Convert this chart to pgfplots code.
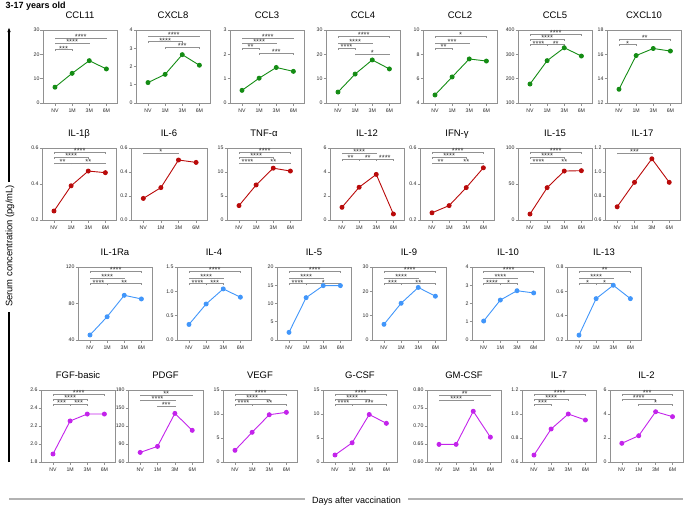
\documentclass[border=0pt]{standalone}
\usepackage{fontspec}
\setmainfont{Liberation Sans}
\usepackage{pgfplots}
\pgfplotsset{compat=1.18}
\usetikzlibrary{arrows.meta}

\definecolor{cg}{RGB}{20,140,20}
\definecolor{cr}{RGB}{185,10,10}
\definecolor{cb}{RGB}{65,150,250}
\definecolor{cp}{RGB}{195,35,235}
\definecolor{axg}{RGB}{145,145,145}

\tikzset{
  brk/.style={draw=axg, line width=0.6pt},
  stars/.style={font=\fontsize{7.5}{8}\selectfont, inner sep=0pt, anchor=base, yshift=-1.4pt, text=black!80},
}
% bracket: #1 first x index, #2 second x index, #3 rel height, #4 stars
\newcommand{\br}[4]{%
  \pgfmathsetmacro\bxa{(#1+0.7)/4.32}%
  \pgfmathsetmacro\bxb{(#2+0.7)/4.32}%
  \pgfmathsetmacro\byl{#3-0.018}%
  \edef\brtemp{\noexpand\draw[brk] (rel axis cs:\bxa,\byl) -- (rel axis cs:\bxa,#3) -- node[stars]{#4} (rel axis cs:\bxb,#3) -- (rel axis cs:\bxb,\byl);}%
  \brtemp
}

\pgfplotsset{
  panel/.style={
    scale only axis, anchor=south west,
    width=74pt,
    xmin=-0.7, xmax=3.62,
    xtick={0,1,2,3}, xticklabels={NV,1M,3M,6M},
    tick pos=left, tick align=outside,
    major tick length=2.5pt,
    axis line style={axg, line width=0.7pt},
    every tick/.style={axg, line width=0.6pt},
    tick label style={font=\fontsize{5.2}{6}\selectfont, text=black!85},
    yticklabel style={inner sep=0.8pt},
    /pgf/number format/assume math mode=true,
    title style={font=\fontsize{9.5}{11}\selectfont, at={(0.5,1)}, anchor=base, yshift=6pt},
    clip=false,
  },
  dec1/.style={yticklabel style={/pgf/number format/.cd, fixed, fixed zerofill, precision=1}},
  dec2/.style={yticklabel style={/pgf/number format/.cd, fixed, fixed zerofill, precision=2}},
  ser/.style={line width=0.9pt, mark=*, mark size=2pt},
}

\begin{document}
\begin{tikzpicture}
\useasboundingbox (0,0) rectangle (685pt,-507pt);

\node[anchor=base west, font=\bfseries\fontsize{9}{11}\selectfont] at (2pt,-8.5pt) {3-17 years old};

% ---------------- Row 1 ----------------
\begin{axis}[panel, at={(43pt,-103pt)}, height=73pt, title={CCL11}, ymin=0, ymax=30, ytick={0,10,20,30}]
\addplot[cg, ser] coordinates {(0,6.5)(1,12.2)(2,17.4)(3,14.0)};
\br{0}{3}{0.89}{****}
\br{0}{2}{0.82}{****}
\br{0}{1}{0.73}{***}
\end{axis}

\begin{axis}[panel, at={(136pt,-103pt)}, height=73pt, title={CXCL8}, ymin=0, ymax=4, ytick={0,1,2,3,4}]
\addplot[cg, ser] coordinates {(0,1.12)(1,1.57)(2,2.65)(3,2.07)};
\br{0}{3}{0.92}{****}
\br{0}{2}{0.84}{****}
\br{1}{3}{0.76}{***}
\end{axis}

\begin{axis}[panel, at={(230pt,-103pt)}, height=73pt, title={CCL3}, ymin=0, ymax=3, ytick={0,1,2,3}]
\addplot[cg, ser] coordinates {(0,0.52)(1,1.02)(2,1.46)(3,1.30)};
\br{0}{3}{0.89}{****}
\br{0}{2}{0.82}{****}
\br{0}{1}{0.75}{**}
\br{1}{3}{0.68}{***}
\end{axis}

\begin{axis}[panel, at={(326pt,-103pt)}, height=73pt, title={CCL4}, ymin=0, ymax=30, ytick={0,10,20,30}]
\addplot[cg, ser] coordinates {(0,4.5)(1,11.9)(2,17.7)(3,14.0)};
\br{0}{3}{0.91}{****}
\br{0}{2}{0.82}{****}
\br{0}{1}{0.75}{****}
\br{1}{3}{0.67}{*}
\end{axis}

\begin{axis}[panel, at={(423pt,-103pt)}, height=73pt, title={CCL2}, ymin=4, ymax=10, ytick={4,6,8,10}]
\addplot[cg, ser] coordinates {(0,4.66)(1,6.14)(2,7.62)(3,7.45)};
\br{0}{3}{0.91}{*}
\br{0}{2}{0.82}{***}
\br{0}{1}{0.75}{**}
\end{axis}

\begin{axis}[panel, at={(518pt,-103pt)}, height=73pt, title={CCL5}, ymin=100, ymax=400, ytick={100,200,300,400}]
\addplot[cg, ser] coordinates {(0,178)(1,274)(2,327)(3,293)};
\br{0}{3}{0.94}{****}
\br{0}{2}{0.87}{****}
\br{0}{1}{0.80}{****}
\br{1}{2}{0.80}{**}
\end{axis}

\begin{axis}[panel, at={(607pt,-103pt)}, height=73pt, title={CXCL10}, ymin=12, ymax=18, ytick={12,14,16,18}]
\addplot[cg, ser] coordinates {(0,13.13)(1,15.9)(2,16.48)(3,16.27)};
\br{0}{3}{0.87}{**}
\br{0}{1}{0.80}{*}
\end{axis}

% ---------------- Row 2 ----------------
\begin{axis}[panel, dec1, at={(42pt,-220pt)}, height=72pt, title={IL-1β}, ymin=0.2, ymax=0.6, ytick={0.2,0.4,0.6}]
\addplot[cr, ser] coordinates {(0,0.25)(1,0.39)(2,0.472)(3,0.463)};
\br{0}{3}{0.94}{****}
\br{0}{2}{0.87}{****}
\br{0}{1}{0.79}{**}
\br{1}{3}{0.79}{**}
\end{axis}

\begin{axis}[panel, dec1, at={(131pt,-220pt)}, width=76pt, height=72pt, title={IL-6}, ymin=0, ymax=0.6, ytick={0,0.2,0.4,0.6}]
\addplot[cr, ser] coordinates {(0,0.18)(1,0.27)(2,0.50)(3,0.48)};
\br{0}{2}{0.93}{*}
\end{axis}

\begin{axis}[panel, at={(227pt,-220pt)}, height=72pt, title={TNF-α}, ymin=0, ymax=15, ytick={0,5,10,15}]
\addplot[cr, ser] coordinates {(0,3.0)(1,7.3)(2,10.8)(3,10.2)};
\br{0}{3}{0.94}{****}
\br{0}{2}{0.87}{****}
\br{0}{1}{0.79}{****}
\br{1}{3}{0.79}{**}
\end{axis}

\begin{axis}[panel, at={(330pt,-220pt)}, height=72pt, title={IL-12}, ymin=0, ymax=6, ytick={0,2,4,6}]
\addplot[cr, ser] coordinates {(0,1.06)(1,2.73)(2,3.8)(3,0.5)};
\br{0}{2}{0.93}{****}
\br{0}{1}{0.84}{**}
\br{1}{2}{0.84}{**}
\br{2}{3}{0.84}{****}
\end{axis}

\begin{axis}[panel, dec1, at={(420pt,-220pt)}, height=72pt, title={IFN-γ}, ymin=0.2, ymax=0.6, ytick={0.2,0.4,0.6}]
\addplot[cr, ser] coordinates {(0,0.24)(1,0.28)(2,0.38)(3,0.49)};
\br{0}{3}{0.94}{****}
\br{0}{2}{0.87}{****}
\br{0}{1}{0.79}{**}
\br{1}{3}{0.79}{**}
\end{axis}

\begin{axis}[panel, at={(518pt,-220pt)}, height=72pt, title={IL-15}, ymin=0, ymax=100, ytick={0,50,100}]
\addplot[cr, ser] coordinates {(0,8.3)(1,44.9)(2,68)(3,68.5)};
\br{0}{3}{0.94}{****}
\br{0}{2}{0.87}{****}
\br{0}{1}{0.79}{****}
\br{1}{3}{0.79}{**}
\end{axis}

\begin{axis}[panel, dec1, at={(605pt,-220pt)}, width=75pt, height=72pt, title={IL-17}, ymin=0.6, ymax=1.2, ytick={0.6,0.8,1.0,1.2}]
\addplot[cr, ser] coordinates {(0,0.71)(1,0.914)(2,1.11)(3,0.914)};
\br{0}{2}{0.93}{***}
\end{axis}

% ---------------- Row 3 ----------------
\begin{axis}[panel, at={(78pt,-340pt)}, height=73pt, title={IL-1Ra}, ymin=40, ymax=120, ytick={40,80,120}]
\addplot[cb, ser] coordinates {(0,45.5)(1,65.5)(2,89)(3,85)};
\br{0}{3}{0.94}{****}
\br{0}{2}{0.85}{****}
\br{0}{1}{0.77}{****}
\br{1}{3}{0.77}{**}
\end{axis}

\begin{axis}[panel, dec1, at={(177pt,-340pt)}, height=73pt, title={IL-4}, ymin=0, ymax=1.5, ytick={0,0.5,1.0,1.5}]
\addplot[cb, ser] coordinates {(0,0.32)(1,0.74)(2,1.05)(3,0.88)};
\br{0}{3}{0.94}{****}
\br{0}{2}{0.85}{****}
\br{0}{1}{0.77}{****}
\br{1}{2}{0.77}{***}
\end{axis}

\begin{axis}[panel, at={(277pt,-340pt)}, height=73pt, title={IL-5}, ymin=0, ymax=20, ytick={0,5,10,15,20}]
\addplot[cb, ser] coordinates {(0,2.1)(1,11.6)(2,14.9)(3,14.9)};
\br{0}{3}{0.94}{****}
\br{0}{2}{0.85}{****}
\br{0}{1}{0.77}{****}
\br{1}{3}{0.77}{*}
\end{axis}

\begin{axis}[panel, at={(372pt,-340pt)}, height=73pt, title={IL-9}, ymin=0, ymax=30, ytick={0,10,20,30}]
\addplot[cb, ser] coordinates {(0,6.45)(1,15.1)(2,21.6)(3,18.0)};
\br{0}{3}{0.94}{****}
\br{0}{2}{0.85}{****}
\br{0}{1}{0.77}{***}
\br{1}{3}{0.77}{**}
\end{axis}

\begin{axis}[panel, at={(472pt,-340pt)}, width=72pt, height=73pt, title={IL-10}, ymin=0, ymax=4, ytick={0,1,2,3,4}]
\addplot[cb, ser] coordinates {(0,1.04)(1,2.19)(2,2.7)(3,2.58)};
\br{0}{3}{0.94}{****}
\br{0}{2}{0.85}{****}
\br{0}{1}{0.77}{****}
\br{1}{2}{0.77}{*}
\end{axis}

\begin{axis}[panel, dec1, at={(567pt,-340pt)}, height=73pt, title={IL-13}, ymin=0.2, ymax=0.8, ytick={0.2,0.4,0.6,0.8}]
\addplot[cb, ser] coordinates {(0,0.24)(1,0.54)(2,0.65)(3,0.54)};
\br{0}{3}{0.94}{**}
\br{0}{2}{0.85}{****}
\br{0}{1}{0.77}{*}
\br{1}{2}{0.77}{*}
\end{axis}

% ---------------- Row 4 ----------------
\begin{axis}[panel, dec1, at={(41pt,-462pt)}, height=72pt, title={FGF-basic}, ymin=1.8, ymax=2.6, ytick={1.8,2.0,2.2,2.4,2.6}]
\addplot[cp, ser] coordinates {(0,1.889)(1,2.256)(2,2.333)(3,2.333)};
\br{0}{3}{0.94}{****}
\br{0}{2}{0.87}{****}
\br{0}{1}{0.80}{***}
\br{1}{2}{0.80}{***}
\end{axis}

\begin{axis}[panel, at={(128pt,-462pt)}, width=75pt, height=72pt, title={PDGF}, ymin=60, ymax=180, ytick={60,90,120,150,180}]
\addplot[cp, ser] coordinates {(0,76)(1,86)(2,141)(3,112.8)};
\br{0}{3}{0.93}{**}
\br{0}{2}{0.86}{****}
\br{1}{2}{0.78}{***}
\end{axis}

\begin{axis}[panel, at={(223pt,-462pt)}, height=72pt, title={VEGF}, ymin=0, ymax=15, ytick={0,5,10,15}]
\addplot[cp, ser] coordinates {(0,2.44)(1,6.19)(2,9.85)(3,10.35)};
\br{0}{3}{0.94}{****}
\br{0}{2}{0.87}{****}
\br{0}{1}{0.80}{****}
\br{1}{3}{0.80}{**}
\end{axis}

\begin{axis}[panel, at={(323pt,-462pt)}, height=72pt, title={G-CSF}, ymin=0, ymax=15, ytick={0,5,10,15}]
\addplot[cp, ser] coordinates {(0,1.46)(1,4.0)(2,9.9)(3,8.06)};
\br{0}{3}{0.94}{****}
\br{0}{2}{0.87}{****}
\br{0}{1}{0.80}{****}
\br{1}{3}{0.80}{***}
\end{axis}

\begin{axis}[panel, dec2, at={(427pt,-462pt)}, height=72pt, title={GM-CSF}, ymin=0.6, ymax=0.8, ytick={0.60,0.65,0.70,0.75,0.80}]
\addplot[cp, ser] coordinates {(0,0.649)(1,0.649)(2,0.741)(3,0.669)};
\br{0}{3}{0.93}{**}
\br{0}{2}{0.86}{****}
\end{axis}

\begin{axis}[panel, dec1, at={(522pt,-462pt)}, height=72pt, title={IL-7}, ymin=0.6, ymax=1.2, ytick={0.6,0.8,1.0,1.2}]
\addplot[cp, ser] coordinates {(0,0.658)(1,0.875)(2,1.0)(3,0.95)};
\br{0}{3}{0.94}{****}
\br{0}{2}{0.87}{****}
\br{0}{1}{0.80}{***}
\end{axis}

\begin{axis}[panel, at={(610pt,-462pt)}, width=73pt, height=72pt, title={IL-2}, ymin=0, ymax=6, ytick={0,2,4,6}]
\addplot[cp, ser] coordinates {(0,1.56)(1,2.19)(2,4.19)(3,3.78)};
\br{0}{3}{0.94}{***}
\br{0}{2}{0.87}{****}
\br{1}{3}{0.80}{*}
\end{axis}

% ---------------- outer labels ----------------
\draw[line width=1.1pt] (9pt,-462pt) -- (9pt,-312pt);
\draw[line width=1.1pt, -{Latex[length=5pt,width=3.5pt]}] (9pt,-182pt) -- (9pt,-27pt);
\node[rotate=90, font=\fontsize{9.4}{11}\selectfont] at (10pt,-246pt) {Serum concentration (pg/mL)};

\draw[black!30, line width=1.4pt] (9pt,-499pt) -- (305pt,-499pt);
\draw[black!30, line width=1.4pt] (408pt,-499pt) -- (683pt,-499pt);
\node[anchor=base, font=\fontsize{9}{11}\selectfont] at (356.5pt,-503pt) {Days after vaccination};
\end{tikzpicture}
\end{document}
